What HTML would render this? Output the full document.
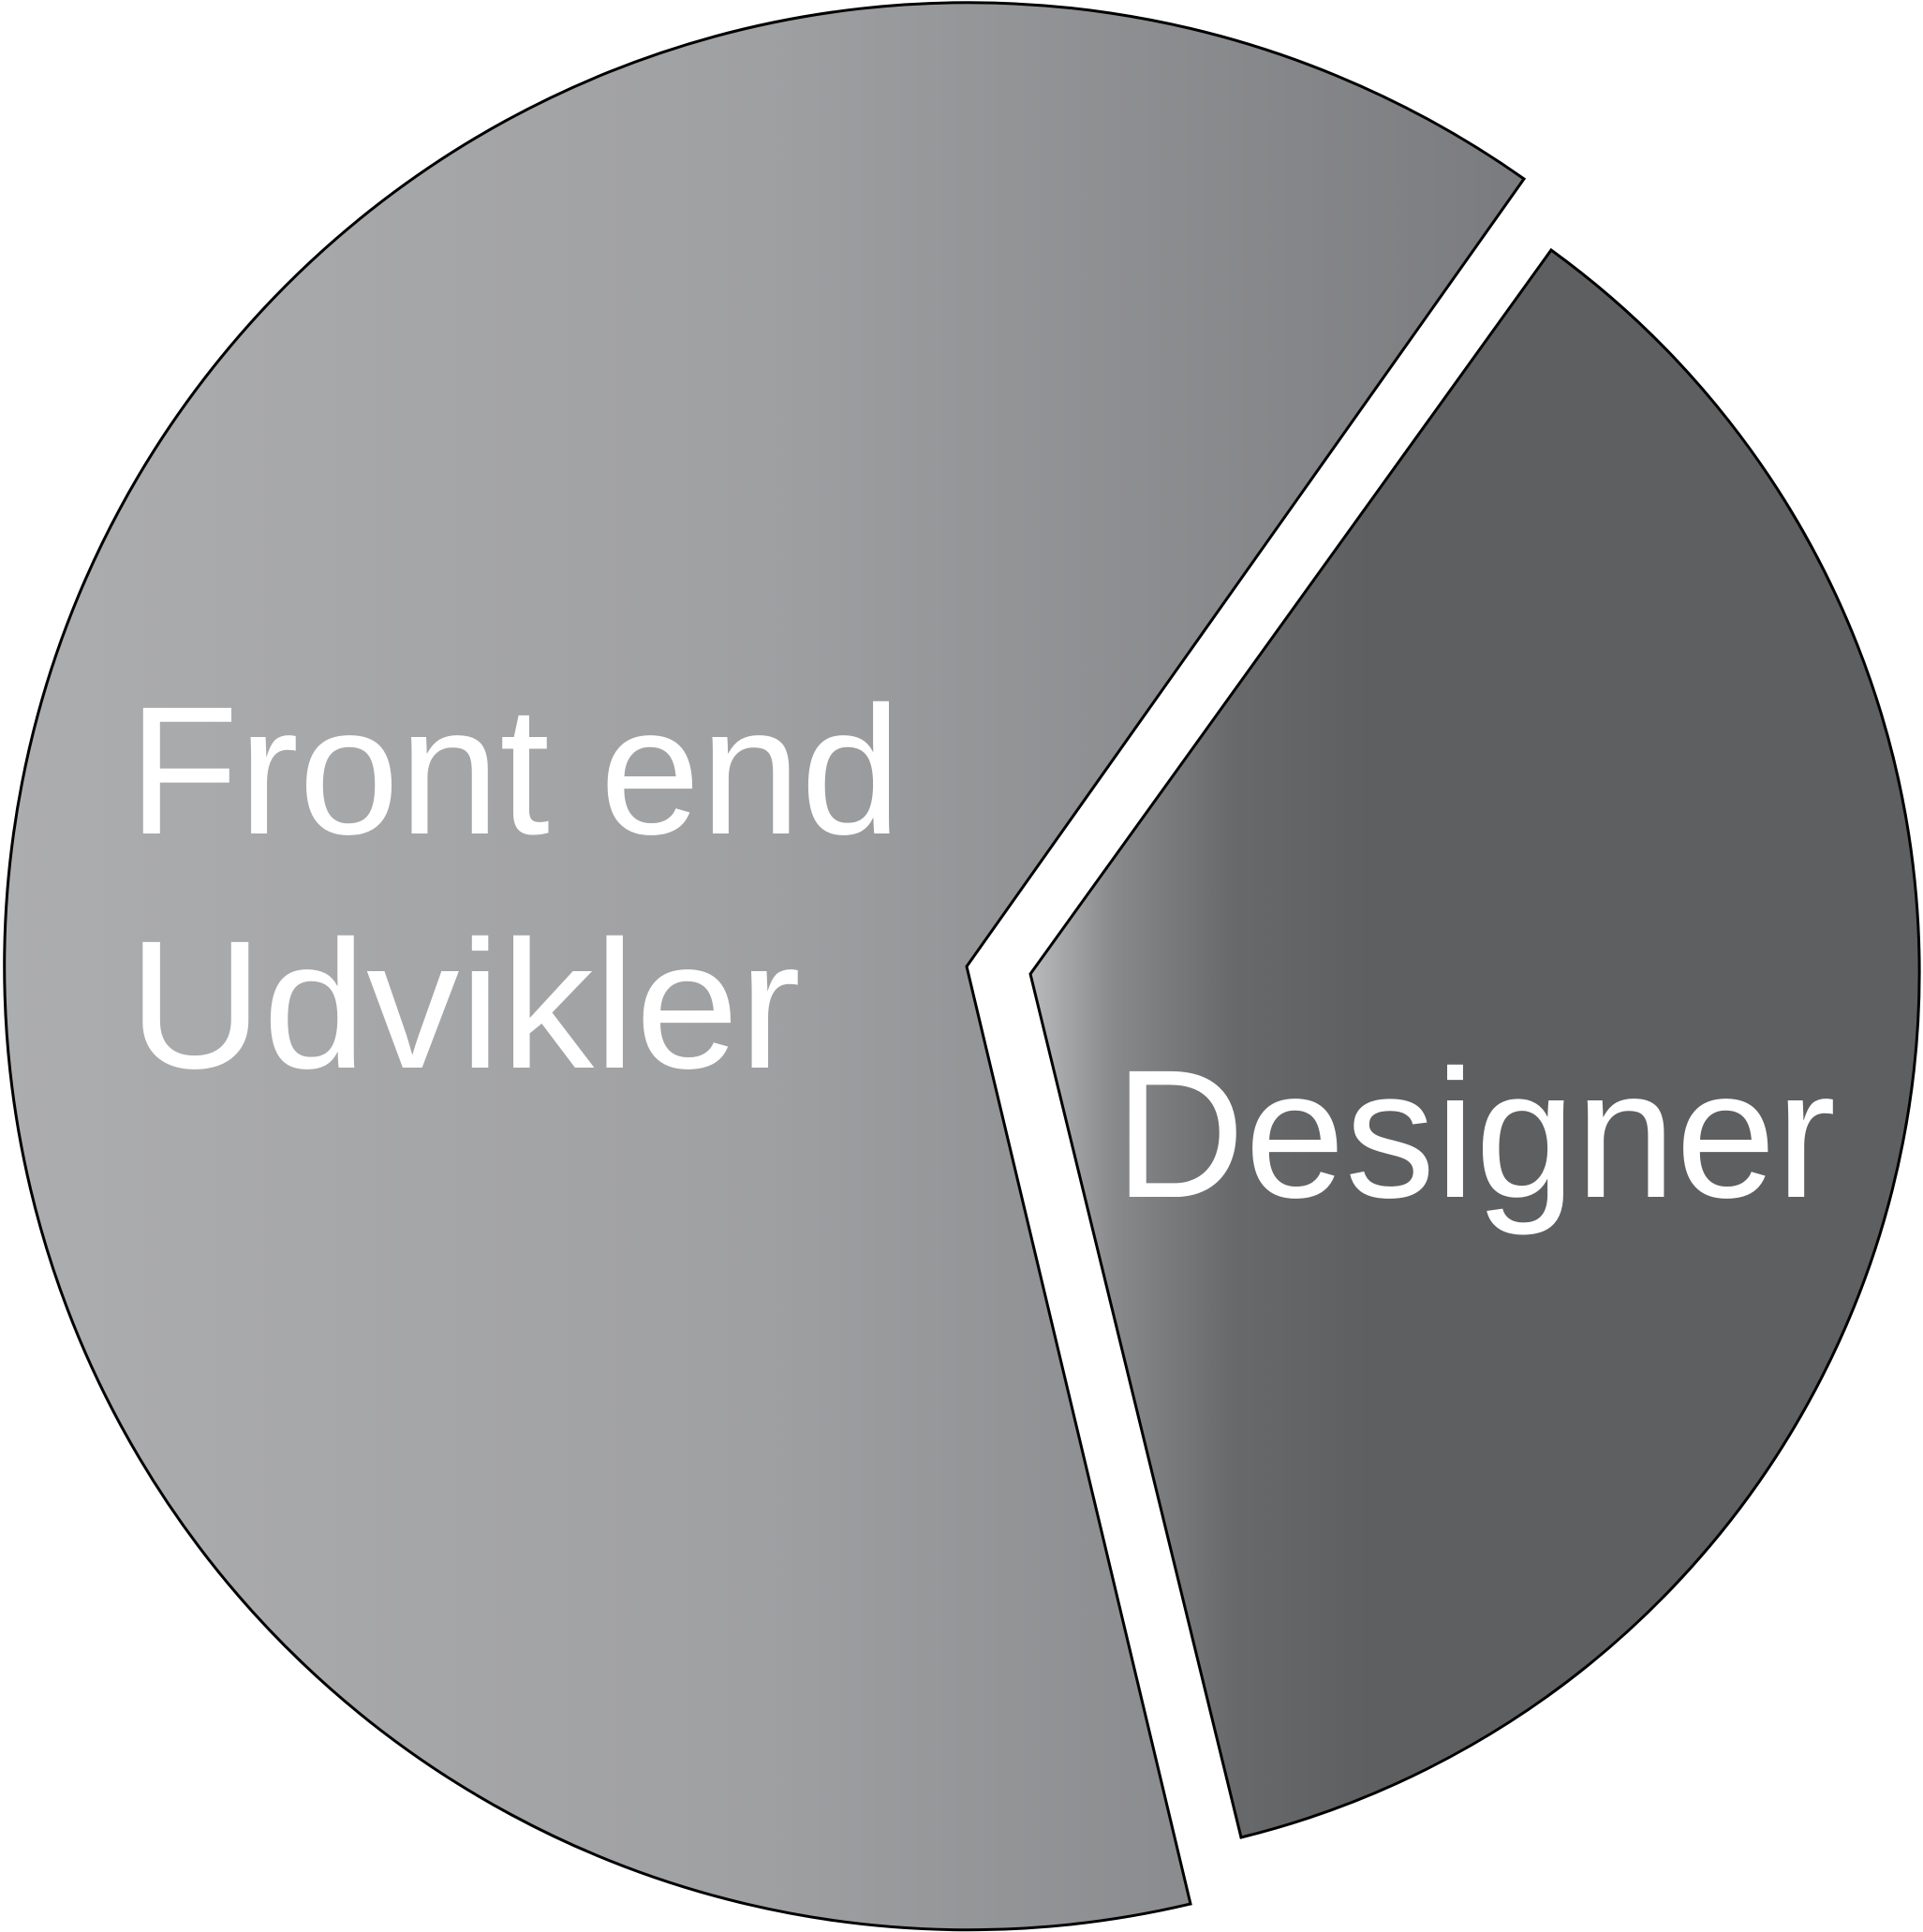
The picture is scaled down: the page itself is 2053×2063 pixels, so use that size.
<!DOCTYPE html>
<html><head><meta charset="utf-8"><style>html,body{margin:0;padding:0;background:#fff}svg{display:block}</style></head>
<body>
<svg width="2053" height="2063" viewBox="0 0 2053 2063" xmlns="http://www.w3.org/2000/svg">
<defs>
<linearGradient id="g1" x1="0" y1="0" x2="1" y2="0" gradientUnits="objectBoundingBox">
<stop offset="0" stop-color="#acadaf"/>
<stop offset="0.5" stop-color="#9fa0a2"/>
<stop offset="1" stop-color="#7a7b7e"/>
</linearGradient>
<linearGradient id="g2" x1="1100" y1="0" x2="1460" y2="0" gradientUnits="userSpaceOnUse">
<stop offset="0" stop-color="#b9babc"/>
<stop offset="0.25" stop-color="#88898b"/>
<stop offset="0.6" stop-color="#68696b"/>
<stop offset="1" stop-color="#5e5f61"/>
</linearGradient>
</defs>
<path d="M1032,1032 L1627,191 A1029,1029 0 1 0 1271,2033 Z" fill="url(#g1)" stroke="#000" stroke-width="3"/>
<path d="M1100,1040 L1656,267 A952,952 0 0 1 1325,1962 Z" fill="url(#g2)" stroke="#000" stroke-width="3"/>
<g font-family="Liberation Sans, sans-serif" font-size="195" fill="#fff">
<text x="137" y="890" textLength="825" lengthAdjust="spacingAndGlyphs">Front end</text>
<text x="137" y="1140" textLength="718" lengthAdjust="spacingAndGlyphs">Udvikler</text>
<text x="1190" y="1278" textLength="770" lengthAdjust="spacingAndGlyphs">Designer</text>
</g>
</svg>
</body></html>
